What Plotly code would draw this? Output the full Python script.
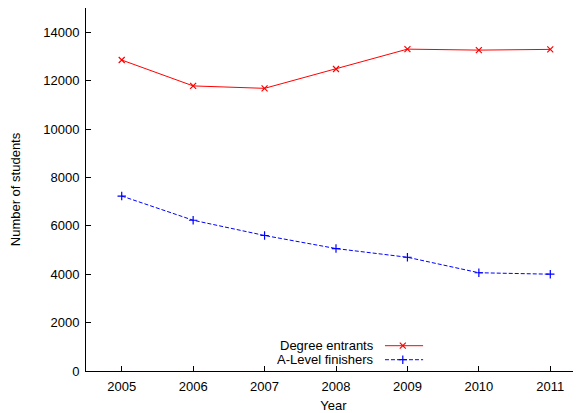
import plotly.graph_objects as go

years = [2005, 2006, 2007, 2008, 2009, 2010, 2011]
degree_entrants = [12850, 11780, 11680, 12480, 13300, 13260, 13290]
alevel_finishers = [7230, 6230, 5600, 5060, 4700, 4060, 4000]
y_ticks = [0, 2000, 4000, 6000, 8000, 10000, 12000, 14000]
series_names = ["Degree entrants", "A-Level finishers"]

RED = "#ff0000"
BLUE = "#0000ff"
FONT = "Liberation Sans, Arial, Helvetica, sans-serif"
F13 = dict(family=FONT, size=13, color="black")

fig = go.Figure()
fig.add_trace(go.Scatter(
    x=years, y=degree_entrants, mode="lines+markers", name=series_names[0],
    line=dict(color=RED, width=1),
    marker=dict(symbol="x-thin", size=6, line=dict(color=RED, width=1.2)),
    showlegend=False))
fig.add_trace(go.Scatter(
    x=years, y=alevel_finishers, mode="lines+markers", name=series_names[1],
    line=dict(color=BLUE, width=1, dash="4px,2px"),
    marker=dict(symbol="cross-thin", size=6, line=dict(color=BLUE, width=1.2)),
    showlegend=False))

# custom gnuplot-style legend (text right, sample on the right) on an overlay axis
leg_x0, leg_x1, leg_xm = 0.604, 0.681, 0.640
leg_rows = [0.0697, 0.0311]
styles = [(RED, "solid", "x-thin"), (BLUE, "4px,2px", "cross-thin")]
for name, yy, (col, dash, sym) in zip(series_names, leg_rows, styles):
    fig.add_trace(go.Scatter(
        x=[leg_x0, leg_x1], y=[yy, yy], mode="lines", xaxis="x2", yaxis="y2",
        line=dict(color=col, width=1, dash=dash), showlegend=False, hoverinfo="skip"))
    fig.add_trace(go.Scatter(
        x=[leg_xm], y=[yy], mode="markers", xaxis="x2", yaxis="y2",
        marker=dict(symbol=sym, size=6, line=dict(color=col, width=1.2)),
        showlegend=False, hoverinfo="skip"))
    fig.add_annotation(x=0.586, y=yy, xref="paper", yref="paper", text=name,
                       showarrow=False, xanchor="right", yanchor="middle",
                       font=F13)

# page body adds an 8px margin, so the figure is 8px smaller to fit the window
fig.update_layout(
    width=573, height=405,
    margin=dict(l=78, r=0, t=0, b=42, autoexpand=False),
    paper_bgcolor="white", plot_bgcolor="white",
    font=F13,
    xaxis=dict(range=[2004.5, 2011.43], tickmode="array", tickvals=years,
               ticktext=[str(y) for y in years], tickfont=F13,
               ticks="inside", ticklen=5, tickcolor="black",
               ticklabelstandoff=3,
               showline=True, linecolor="black", linewidth=1,
               showgrid=False, zeroline=False, automargin=False,
               title=dict(text="Year", standoff=8, font=F13)),
    yaxis=dict(range=[0, 15000], tickmode="array", tickvals=y_ticks,
               ticktext=[str(v) for v in y_ticks], tickfont=F13,
               ticks="inside", ticklen=5, tickcolor="black",
               ticklabelstandoff=3,
               showline=True, linecolor="black", linewidth=1,
               showgrid=False, zeroline=False, automargin=False,
               title=dict(text="Number of students", standoff=20, font=F13)),
    xaxis2=dict(overlaying="x", range=[0, 1], visible=False, fixedrange=True),
    yaxis2=dict(overlaying="y", range=[0, 1], visible=False, fixedrange=True),
)

fig.write_html("out.html")
